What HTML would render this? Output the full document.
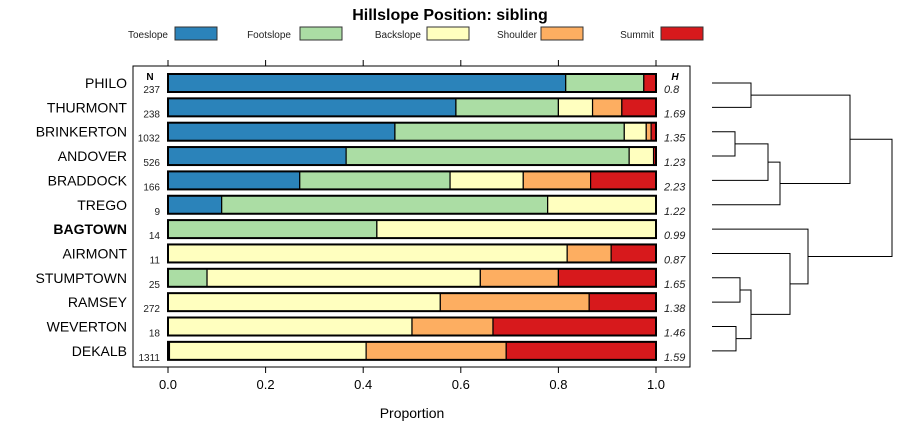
<!DOCTYPE html>
<html><head><meta charset="utf-8"><style>
body{margin:0;background:#fff;}
svg{display:block;font-family:"Liberation Sans",sans-serif;}
</style></head><body>
<svg id="c" width="900" height="440"></svg>
<script>
const categories=["PHILO","THURMONT","BRINKERTON","ANDOVER","BRADDOCK","TREGO","BAGTOWN","AIRMONT","STUMPTOWN","RAMSEY","WEVERTON","DEKALB"];
const seriesNames=["Toeslope","Footslope","Backslope","Shoulder","Summit"];
const toeslope=[0.815,0.59,0.465,0.365,0.27,0.11,0,0,0,0,0,0.003];
const footslope=[0.16,0.21,0.47,0.58,0.308,0.668,0.428,0,0.08,0,0,0];
const backslope=[0,0.07,0.045,0.05,0.15,0.222,0.572,0.818,0.56,0.558,0.5,0.403];
const shoulder=[0,0.06,0.01,0,0.138,0,0,0.09,0.16,0.305,0.166,0.287];
const summit=[0.025,0.07,0.01,0.005,0.134,0,0,0.092,0.2,0.137,0.334,0.307];
const nValues=["237","238","1032","526","166","9","14","11","25","272","18","1311"];
const hValues=["0.8","1.69","1.35","1.23","2.23","1.22","0.99","0.87","1.65","1.38","1.46","1.59"];
const xTicks=[0,0.2,0.4,0.6,0.8,1.0];
const xTickLabels=["0.0","0.2","0.4","0.6","0.8","1.0"];
const colors=["#2b83ba","#abdda4","#ffffbf","#fdae61","#d7191c"];
const merges=[[-1,-2,751],[-3,-4,735],[2,-5,768],[3,-6,780],[1,4,850],[-9,-10,740],[-11,-12,736],[6,7,751],[-8,8,790],[-7,9,808],[5,10,892]];

const svg=document.getElementById('c');const NS='http://www.w3.org/2000/svg';
function el(t,a,p){const e=document.createElementNS(NS,t);for(const k in a)e.setAttribute(k,a[k]);(p||svg).appendChild(e);return e;}
const X=v=>168+v*488;
const Y=i=>83+i*24.35;
let t=el('text',{x:450,y:20,'text-anchor':'middle','font-size':16,'font-weight':'bold'});t.textContent='Hillslope Position: sibling';

const legX=[[168,175],[291,300],[421,427],[537,541],[654,661]];
seriesNames.forEach((s,i)=>{
 const g=el('g',{});
 
 
 const tx=el('text',{x:legX[i][0],y:38,'text-anchor':'end','font-size':10,fill:'#222'},g);tx.textContent=s;
 el('rect',{x:legX[i][1],y:27,width:42,height:13,fill:colors[i],stroke:'#333','stroke-width':1},g);
});
const box=el('rect',{x:133,y:66,width:557,height:301,fill:'none',stroke:'#000'});

xTicks.forEach((v,i)=>{
 el('line',{x1:X(v),x2:X(v),y1:60,y2:66,stroke:'#000'});
 el('line',{x1:X(v),x2:X(v),y1:367,y2:373,stroke:'#000'});
 const l=el('text',{x:X(v),y:389,'text-anchor':'middle','font-size':13});l.textContent=xTickLabels[i];
 
});
let xl=el('text',{x:412,y:418,'text-anchor':'middle','font-size':14});xl.textContent='Proportion';

let nh=el('text',{x:150,y:80,'text-anchor':'middle','font-size':10,'font-weight':'bold'});nh.textContent='N';

let hh=el('text',{x:675,y:80,'text-anchor':'middle','font-size':10,'font-weight':'bold','font-style':'italic'});hh.textContent='H';

const series=[toeslope,footslope,backslope,shoulder,summit];
categories.forEach((c,i)=>{
 const y=Y(i);
 const lb=el('text',{x:127,y:y+5,'text-anchor':'end','font-size':14,'font-weight':c==='BAGTOWN'?'bold':'normal'});lb.textContent=c;
 
 const n=el('text',{x:160,y:y+10,'text-anchor':'end','font-size':10,fill:'#222'});n.textContent=nValues[i];
 
 const h=el('text',{x:664,y:y+10,'font-size':11,'font-style':'italic',fill:'#222'});h.textContent=hValues[i];
 
 let cum=0;
 series.forEach((s,k)=>{
  const v=s[i];if(v<=0)return;
  const r=el('rect',{x:X(cum),y:y-9,width:X(cum+v)-X(cum),height:18,fill:colors[k],stroke:'#000','stroke-width':1.2});
  
  cum+=v;
 });
 const o=el('rect',{x:X(0),y:y-9,width:X(1)-X(0),height:18,fill:'none',stroke:'#000','stroke-width':2});
 
});
const node=[];const dg=el('g',{stroke:'#000','stroke-width':1,fill:'none'});

function pos(r){return r<0?{x:712,y:Y(-r-1)}:node[r-1];}
merges.forEach(m=>{
 const a=pos(m[0]),b=pos(m[1]),hx=m[2];
 el('path',{d:`M${a.x},${a.y}H${hx}V${b.y}H${b.x}`},dg);
 node.push({x:hx,y:(a.y+b.y)/2});
});
</script>
</body></html>
